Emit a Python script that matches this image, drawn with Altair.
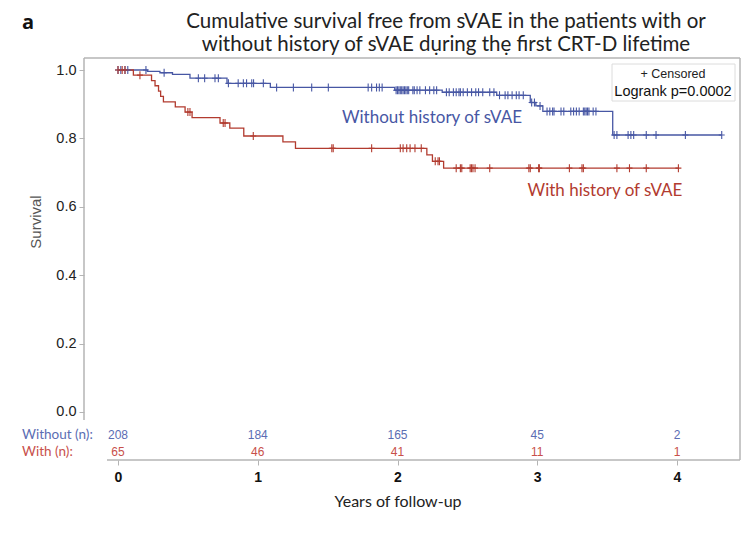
import altair as alt
import pandas as pd

# ---------------- data ----------------
# Kaplan-Meier step points (time in years, survival after the step)
blue_t = [0.0, 0.21, 0.30, 0.39, 0.515, 0.78, 1.09, 1.98, 2.32, 2.71, 2.95, 2.99, 3.04, 3.54, 4.32]
blue_s = [1.0, 0.996, 0.992, 0.987, 0.976, 0.961, 0.949, 0.941, 0.935, 0.926, 0.905, 0.895, 0.879, 0.810, 0.810]

red_t = [0.0, 0.11, 0.24, 0.265, 0.29, 0.305, 0.325, 0.41, 0.48, 0.53, 0.73, 0.80, 0.90,
         1.18, 1.27, 2.21, 2.25, 2.33, 4.01]
red_s = [1.0, 0.985, 0.969, 0.954, 0.938, 0.923, 0.907, 0.892, 0.877, 0.861, 0.845, 0.830, 0.807,
         0.790, 0.771, 0.752, 0.733, 0.713, 0.713]

# censoring times
blue_cens = [0.0, 0.02, 0.05, 0.07, 0.20, 0.33, 0.575, 0.62, 0.694, 0.718, 0.79, 0.86, 0.897,
             0.92, 0.957, 0.97, 1.04, 1.135, 1.255, 1.386, 1.505, 1.79, 1.815, 1.85, 1.87, 1.89,
             1.99, 2.00, 2.01, 2.02, 2.03, 2.04, 2.05, 2.06, 2.07, 2.08, 2.11, 2.12, 2.14, 2.16,
             2.20, 2.23, 2.26, 2.28, 2.35, 2.37, 2.40, 2.42, 2.44, 2.45, 2.47, 2.50, 2.53, 2.56,
             2.58, 2.61, 2.66, 2.69, 2.73, 2.77, 2.79, 2.82, 2.85, 2.87, 2.90, 2.96, 2.98, 3.02,
             3.07, 3.09, 3.11, 3.12, 3.17, 3.19, 3.24, 3.26, 3.28, 3.30, 3.33, 3.34, 3.35, 3.36,
             3.37, 3.40, 3.42, 3.55, 3.57, 3.65, 3.67, 3.69, 3.78, 3.85, 4.06, 4.32]
red_cens = [0.0, 0.03, 0.05, 0.157, 0.50, 0.515, 0.753, 0.766, 0.968, 1.53, 1.54, 1.815,
            2.02, 2.04, 2.066, 2.09, 2.125, 2.17, 2.27, 2.29, 2.30, 2.42, 2.45, 2.46, 2.52,
            2.53, 2.54, 2.555, 2.66, 2.94, 2.95, 3.01, 3.015, 3.23, 3.32, 3.33, 3.57, 3.66,
            3.78, 4.01]

# numbers at risk
risk_times = [0, 1, 2, 3, 4]
risk_without = [208, 184, 165, 45, 2]
risk_with = [65, 46, 41, 11, 1]

title_lines = ["Cumulative survival free from sVAE in the patients with or",
               "without history of sVAE du\u0323ring the\u0323 first CRT-D lifetime"]

BLUE = "#4757a4"
RED = "#b23b2f"
BLUE_T = "#5b6db3"
RED_T = "#c8504a"
FRAME = "#b4b4b4"

W, H = 656, 402


def km_at(ts, ss, t):
    val = ss[0]
    for ti, si in zip(ts, ss):
        if ti <= t:
            val = si
    return val


curves = pd.DataFrame(
    [{"t": t, "s": s, "g": "Without"} for t, s in zip(blue_t, blue_s)]
    + [{"t": t, "s": s, "g": "With"} for t, s in zip(red_t, red_s)]
)
cens = pd.DataFrame(
    [{"t": t, "s": km_at(blue_t, blue_s, t), "g": "Without"} for t in blue_cens]
    + [{"t": t, "s": km_at(red_t, red_s, t), "g": "With"} for t in red_cens]
)
risk = pd.DataFrame(
    [{"t": t, "n": str(n), "g": "Without"} for t, n in zip(risk_times, risk_without)]
    + [{"t": t, "n": str(n), "g": "With"} for t, n in zip(risk_times, risk_with)]
)

xs = alt.Scale(domain=[-0.2433, 4.4508], nice=False, zero=False)
ys = alt.Scale(domain=[-0.1404, 1.0351], nice=False, zero=False)
col = alt.Scale(domain=["Without", "With"], range=[BLUE, RED])

x_enc = alt.X("t:Q", scale=xs, axis=alt.Axis(
    values=risk_times, format="d", domain=False, grid=False, ticks=True, tickSize=5,
    tickColor=FRAME, labelFontSize=14, labelFont="Liberation Sans", labelColor="#111",
    labelFontWeight="bold", labelPadding=5, title=None))
y_enc = alt.Y("s:Q", scale=ys, axis=alt.Axis(
    values=[0, 0.2, 0.4, 0.6, 0.8, 1.0], format=".1f", domain=False, grid=False,
    tickSize=5, tickColor=FRAME, labelFontSize=14.5, labelFont="Liberation Sans",
    labelColor="#222", labelPadding=3, title=None))

lines = alt.Chart(curves).mark_line(interpolate="step-after", strokeWidth=1.3).encode(
    x=x_enc, y=y_enc, color=alt.Color("g:N", scale=col, legend=None), detail="g:N")

marks = alt.Chart(cens).mark_point(
    shape="M0,-1L0,1M-0.75,0L0.75,0", filled=False, strokeWidth=1.1, size=64, opacity=1
).encode(x=alt.X("t:Q", scale=xs), y=alt.Y("s:Q", scale=ys),
         color=alt.Color("g:N", scale=col, legend=None))

risk_w = alt.Chart(risk[risk.g == "Without"]).mark_text(
    fontSize=12, font="Liberation Sans", color=BLUE_T).encode(
    x=alt.X("t:Q", scale=xs), y=alt.value(377), text="n:N")
risk_r = alt.Chart(risk[risk.g == "With"]).mark_text(
    fontSize=12, font="Liberation Sans", color=RED_T).encode(
    x=alt.X("t:Q", scale=xs), y=alt.value(394), text="n:N")

base = alt.Chart(pd.DataFrame({"k": [0]}))


def txt(text, x, y, size, color="#222", font="Lato", align="center", weight="normal",
        angle=0, baseline="middle", line_height=None):
    kw = {}
    if line_height is not None:
        kw["lineHeight"] = line_height
    return base.mark_text(text=text, fontSize=size, font=font, color=color, align=align,
                          fontWeight=weight, angle=angle, baseline=baseline, **kw).encode(
        x=alt.value(x), y=alt.value(y))


def rule(x, x2, y, y2):
    return base.mark_rule(color=FRAME, strokeWidth=1.5).encode(
        x=alt.value(x), x2=alt.value(x2), y=alt.value(y), y2=alt.value(y2))


frame = [rule(0, W, 0, 0), rule(W, W, 0, H), rule(23, W, H, H), rule(0, 0, 0, 362)]

legend_box = base.mark_rect(fill="white", stroke="#dcdcdc", strokeWidth=1).encode(
    x=alt.value(528), x2=alt.value(651), y=alt.value(6), y2=alt.value(43))

texts = [
    txt("a", -62, -45, 20, color="#111", font="Open Sans", align="left", weight="bold",
        baseline="top"),
    txt(title_lines, 362, -46.5, 20.5, color="#222", font="Lato", baseline="top",
        line_height=23),
    txt("+ Censored", 589, 16, 12.5, font="Liberation Sans", color="#222"),
    txt("Logrank p=0.0002", 589, 34, 14.5, font="Liberation Sans", color="#111"),
    txt("Without history of sVAE", 348, 60, 17, color=BLUE),
    txt("With history of sVAE", 521, 133, 17, color=RED),
    txt("Survival", -48, 164, 15, font="Liberation Sans", color="#555", angle=270),
    txt("Years of follow-up", 314, 444, 16, color="#222"),
    txt("Without (n):", -62, 377, 13.5, font="Lato", color=BLUE_T, align="left"),
    txt("With (n):", -62, 394, 13.5, font="Lato", color=RED_T, align="left"),
]

chart = alt.layer(
    *frame, lines, marks, legend_box, risk_w, risk_r, *texts
).properties(
    width=W, height=H,
    autosize=alt.AutoSizeParams(type="none"),
    padding={"left": 76, "top": 50, "right": 2, "bottom": 88},
    background="white",
).configure_view(stroke=None)

chart.save("out.html", embed_options={"renderer": "svg", "actions": False})
